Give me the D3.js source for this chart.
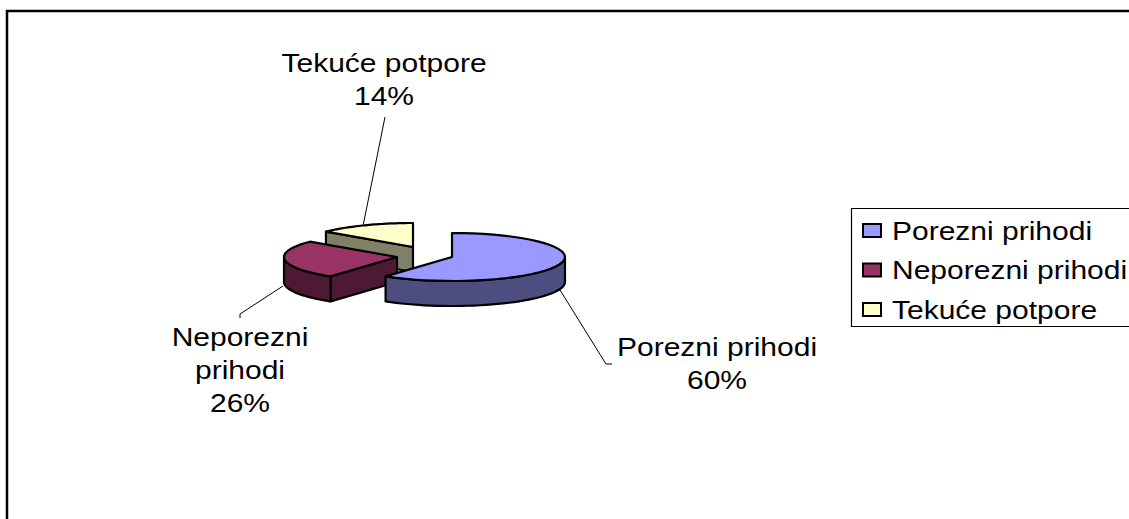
<!DOCTYPE html>
<html>
<head>
<meta charset="utf-8">
<script src="https://cdn.jsdelivr.net/npm/d3@7"></script>
<style>
  html, body { margin: 0; padding: 0; background: #fff; }
  svg { display: block; }
  text { font-family: "Liberation Sans", Arial, sans-serif; fill: #000; }
</style>
</head>
<body>
<div id="chart"></div>
<script>
var categories = ["Porezni prihodi", "Neporezni prihodi", "Tekuće potpore"];
var shares = [60, 26, 14];
var topColors = ["#9999ff", "#993366", "#ffffcc"];
var sideColors = ["#4d4d80", "#4d1933", "#808066"];

// label lines, one array per slice
var labelLines = [["Porezni prihodi", "60%"], ["Neporezni", "prihodi", "26%"], ["Tekuće potpore", "14%"]];

var width = 1129, height = 519;
var rx = 113, ry = 24, depth = 25;
var textStretch = 1.2; // the original text is wider than the font

// centre of each exploded slice
var centres = [[452, 257], [397, 257], [413, 247]];
var labelPos = [[717, 356], [240, 346], [384, 72]];
var leaders = [
  [[560, 290], [606, 364], [612, 364]],
  [[283, 286], [240, 314], [240, 318]],
  [[385, 117], [363, 226]]
];

var svg = d3.select("#chart").append("svg")
    .attr("width", width)
    .attr("height", height);

// frame, only top and left fall inside the picture
svg.append("path")
    .attr("d", "M7,519V11H1129")
    .attr("fill", "none")
    .attr("stroke", "#000")
    .attr("stroke-width", 2.5);

var pie = d3.pie().sort(null).value(function(d) { return d; });
var arcs = pie(shares);

var line = d3.line();

// 3d projection of the pie, angle clockwise from 12 o'clock
function rim(c, a, drop) {
  return [c[0] + rx * Math.sin(a), c[1] - ry * Math.cos(a) + (drop || 0)];
}
function rimPoints(c, a0, a1, drop) {
  return d3.range(0, 41).map(function(i) {
    return rim(c, a0 + (a1 - a0) * i / 40, drop);
  });
}

var order = [2, 1, 0];
order.forEach(function(i) {
  var c = centres[i], a0 = arcs[i].startAngle, a1 = arcs[i].endAngle;
  var g = svg.append("g");
  var cBottom = [c[0], c[1] + depth];

  // cut face at the start angle, seen from the front only for angles past 180
  if (Math.sin(a0) < -1e-6) {
    g.append("path")
      .attr("d", line([c, rim(c, a0), rim(c, a0, depth), cBottom]) + "Z")
      .attr("fill", sideColors[i]).attr("stroke", "#000").attr("stroke-width", 2.2)
      .attr("stroke-linejoin", "round");
  }

  // outer wall on the front half
  var w0 = Math.max(a0, Math.PI / 2), w1 = Math.min(a1, 3 * Math.PI / 2);
  if (w1 > w0) {
    var wall = rimPoints(c, w0, w1).concat(rimPoints(c, w1, w0, depth));
    g.append("path")
      .attr("d", line(wall) + "Z")
      .attr("fill", sideColors[i]).attr("stroke", "#000").attr("stroke-width", 2.2)
      .attr("stroke-linejoin", "round");
  }

  // top
  var top = [c].concat(rimPoints(c, a0, a1));
  g.append("path")
    .attr("d", line(top) + "Z")
    .attr("fill", topColors[i]).attr("stroke", "#000").attr("stroke-width", 2.2)
    .attr("stroke-linejoin", "round");
});

// leader lines
leaders.forEach(function(l) {
  svg.append("path")
    .attr("d", line(l))
    .attr("fill", "none")
    .attr("stroke", "#000")
    .attr("stroke-width", 1);
});

// slice labels
labelLines.forEach(function(lines, i) {
  lines.forEach(function(t, j) {
    svg.append("text")
      .attr("transform", "translate(" + labelPos[i][0] + "," + (labelPos[i][1] + j * 33) + ") scale(" + textStretch + ",1)")
      .attr("text-anchor", "middle")
      .attr("font-size", 25)
      .text(t);
  });
});

// legend
svg.append("path")
    .attr("d", "M1129,208.5H851.5V326.5H1129")
    .attr("fill", "#fff")
    .attr("stroke", "#000")
    .attr("stroke-width", 1.2);

var legendY = d3.scalePoint().domain(categories).range([230.5, 309.5]);

var legend = svg.selectAll("g.legend")
    .data(categories)
    .enter().append("g")
    .attr("class", "legend")
    .attr("transform", function(d) { return "translate(0," + legendY(d) + ")"; });

legend.append("rect")
    .attr("x", 863).attr("y", -6.5)
    .attr("width", 18).attr("height", 13)
    .attr("fill", function(d, i) { return topColors[i]; })
    .attr("stroke", "#000")
    .attr("stroke-width", 2);

legend.append("text")
    .attr("transform", "translate(892,9) scale(" + textStretch + ",1)")
    .attr("font-size", 25)
    .text(function(d) { return d; });
</script>
</body>
</html>
